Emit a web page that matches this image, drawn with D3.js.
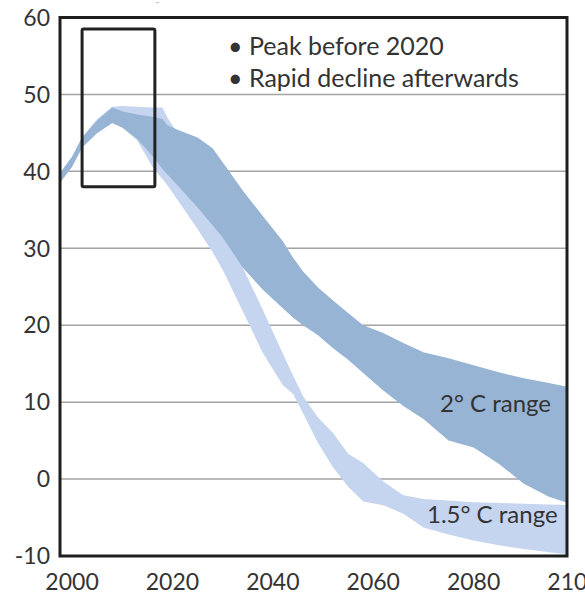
<!DOCTYPE html>
<html>
<head>
<meta charset="utf-8">
<script src="https://cdn.jsdelivr.net/npm/d3@7"></script>
<style>
  body { margin: 0; background: #fff; }
  text { font-family: Lato, "Open Sans", sans-serif; fill: #333; }
</style>
</head>
<body>
<script>
// emission pathways
var years    = [1997, 2000, 2002, 2005, 2008, 2010, 2013, 2016, 2018, 2019, 2021, 2025, 2028, 2030, 2034, 2038, 2042, 2044, 2046, 2049, 2052, 2055, 2058, 2062, 2066, 2070, 2075, 2080, 2085, 2090, 2095, 2100];
var twoHigh  = [39.2, 41.9, 44.4, 46.6, 48.3, 47.8, 47.4, 47.1, 46.8, 46.0, 45.4, 44.4, 43.0, 41.2, 37.5, 34.2, 30.9, 28.8, 27.0, 24.9, 23.2, 21.6, 20.0, 19.0, 17.7, 16.5, 15.7, 14.8, 13.9, 13.1, 12.5, 11.8];
var twoLow   = [38.0, 40.6, 43.1, 45.0, 46.3, 45.7, 44.2, 42.0, 40.3, 39.6, 38.2, 35.3, 33.0, 31.4, 27.5, 24.6, 22.2, 21.0, 20.0, 18.7, 17.0, 15.5, 13.8, 11.5, 9.5, 7.8, 5.0, 4.1, 2.0, -0.6, -2.3, -3.4];
var oneHigh  = [39.2, 41.9, 44.4, 46.8, 48.4, 48.5, 48.4, 48.3, 48.3, 47.0, 45.0, 40.0, 36.0, 33.5, 27.5, 22.0, 16.3, 13.5, 10.8, 8.0, 6.0, 3.3, 2.1, -0.3, -2.1, -2.6, -2.8, -3.0, -3.1, -3.2, -3.3, -3.4];
var oneLow   = [38.0, 40.6, 43.1, 45.0, 46.3, 45.7, 44.0, 40.6, 39.0, 38.2, 36.3, 32.5, 29.5, 27.2, 21.8, 16.4, 12.2, 11.1, 8.6, 4.7, 1.5, -1.0, -2.9, -3.4, -4.5, -6.3, -7.2, -8.0, -8.6, -9.1, -9.5, -9.9];

var yTicks = [-10, 0, 10, 20, 30, 40, 50, 60];
var xTicks = [2000, 2020, 2040, 2060, 2080, 2100];
var gridValues = [0, 10, 20, 30, 40, 50];

var notes = ['Peak before 2020', 'Rapid decline afterwards'];
var highlight = {x0: 2002, x1: 2016.5, y0: 38, y1: 58.5};

var width = 585,
    height = 596;

var plotLeft = 60, plotRight = 567, plotTop = 17.5, plotBottom = 556;

var svg = d3.select('body')
  .append('svg')
  .attr('width', width)
  .attr('height', height);

var x = d3.scaleLinear()
  .domain([1997.6, 2098.6])
  .range([plotLeft, plotRight]);

var y = d3.scaleLinear()
  .domain([-10, 60])
  .range([plotBottom, plotTop]);

svg.append('clipPath').attr('id', 'plot')
  .append('rect')
  .attr('x', plotLeft).attr('y', plotTop)
  .attr('width', plotRight - plotLeft).attr('height', plotBottom - plotTop);

// gridlines
svg.append('g')
  .selectAll('line')
  .data(gridValues)
  .enter()
  .append('line')
  .attr('x1', plotLeft).attr('x2', plotRight)
  .attr('y1', function(d) { return y(d); })
  .attr('y2', function(d) { return y(d); })
  .attr('stroke', '#a3a3a3')
  .attr('stroke-width', 1.5);

var idx = d3.range(years.length);

function band(hi, lo) {
  return d3.area()
    .x(function(i) { return x(years[i]); })
    .y0(function(i) { return y(lo[i]); })
    .y1(function(i) { return y(hi[i]); });
}

var bands = svg.append('g').attr('clip-path', 'url(#plot)');

bands.append('path')
  .datum(idx)
  .attr('d', band(oneHigh, oneLow))
  .attr('fill', '#c6d5ef');

bands.append('path')
  .datum(idx)
  .attr('d', band(twoHigh, twoLow))
  .attr('fill', '#97b4d4');

// frame
svg.append('rect')
  .attr('x', plotLeft).attr('y', plotTop)
  .attr('width', plotRight - plotLeft).attr('height', plotBottom - plotTop)
  .attr('fill', 'none')
  .attr('stroke', '#1e1e1e')
  .attr('stroke-width', 3);

// highlight box
svg.append('rect')
  .attr('x', x(highlight.x0))
  .attr('y', y(highlight.y1))
  .attr('width', x(highlight.x1) - x(highlight.x0))
  .attr('height', y(highlight.y0) - y(highlight.y1))
  .attr('rx', 1.5)
  .attr('fill', 'none')
  .attr('stroke', '#222')
  .attr('stroke-width', 3);

// axis labels
svg.append('g')
  .selectAll('text')
  .data(yTicks)
  .enter()
  .append('text')
  .attr('x', 50)
  .attr('y', function(d) { return y(d); })
  .attr('dy', '0.36em')
  .attr('text-anchor', 'end')
  .style('font-size', '23px')
  .text(function(d) { return d; });

svg.append('g')
  .selectAll('text')
  .data(xTicks)
  .enter()
  .append('text')
  .attr('x', function(d) { return x(d); })
  .attr('y', 590)
  .attr('text-anchor', 'middle')
  .style('font-size', '23px')
  .text(function(d) { return d; });

// notes
var note = svg.append('g');
note.selectAll('text')
  .data(notes)
  .enter()
  .append('text')
  .attr('x', 228)
  .attr('y', function(d, i) { return 55 + i * 32; })
  .style('font-size', '25px')
  .text(function(d) { return '\u2022 ' + d; });

svg.append('text')
  .attr('x', 440).attr('y', 412)
  .style('font-size', '24px')
  .text('2\u00b0 C range');

svg.append('text')
  .attr('x', 427).attr('y', 523)
  .style('font-size', '24px')
  .text('1.5\u00b0 C range');

svg.append('text')
  .attr('x', 155).attr('y', 9)
  .style('font-size', '10px')
  .style('fill', '#aaa')
  .text('\u02dd');
</script>
</body>
</html>
